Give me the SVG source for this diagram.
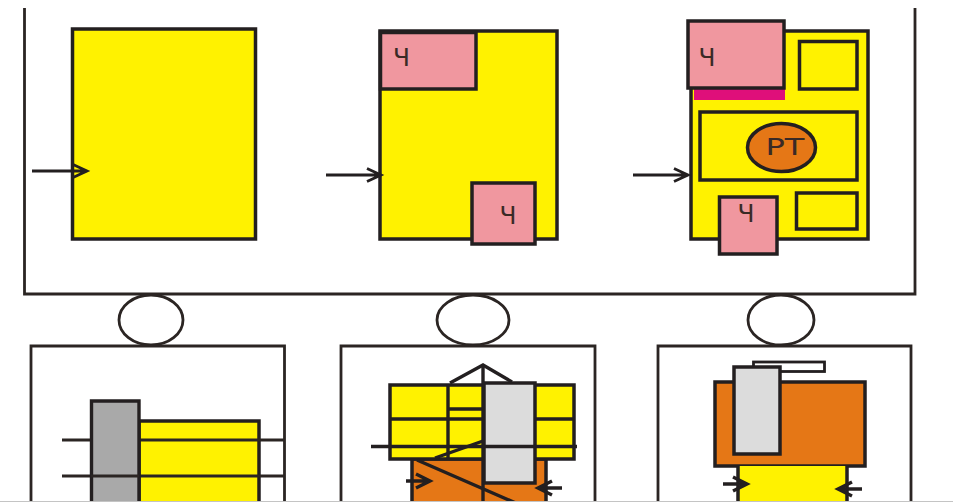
<svg xmlns="http://www.w3.org/2000/svg" width="953" height="502" viewBox="0 0 953 502">
<style>
.k{stroke:#231f20;stroke-width:3.400;fill:none}
.t{stroke:#2b2523;stroke-width:2.800;fill:none}
.y{fill:#fff200;stroke:#231f20;stroke-width:3.500}
.p{fill:#f0979f;stroke:#231f20;stroke-width:3.500}
.o{fill:#e57716;stroke:#231f20;stroke-width:3.500}
.g{fill:#dcdcdc;stroke:#231f20;stroke-width:3.500}
.w{fill:#fff;stroke:#231f20;stroke-width:2.800}
text{font-family:"DejaVu Sans",sans-serif;fill:#3a2a26;text-anchor:middle}
</style>
<defs>
<path id="ar" d="M-14-6.500L0 0L-14 6.500M-55 0H0" fill="none" stroke="#231f20" stroke-width="2.800"/>
<path id="as" d="M-14-7L0 0L-14 7M-24 0H0" fill="none" stroke="#231f20" stroke-width="3.400"/>
</defs>
<rect width="953" height="502" fill="#fff"/>
<g id="frame-top"><path class="t" d="M24.500 8V294H915V8"/></g>
<g id="panel-a"><rect class="y" x="72.500" y="29" width="183" height="210"/></g>
<g id="panel-b">
<rect class="y" x="380" y="31" width="177" height="208"/>
<rect class="p" x="380.500" y="32.500" width="95.500" height="56.500"/>
<text x="401.500" y="66" font-size="24" textLength="17" lengthAdjust="spacingAndGlyphs">Ч</text>
<rect class="p" x="472" y="183" width="63" height="61"/>
<text x="508" y="224" font-size="24" textLength="17" lengthAdjust="spacingAndGlyphs">Ч</text>
</g>
<g id="panel-c">
<rect class="y" x="691" y="31" width="177" height="208"/>
<rect x="694" y="89" width="91" height="11" fill="#df0f7a"/>
<rect class="p" x="688" y="21" width="96" height="67"/>
<text x="707" y="66" font-size="24" textLength="17" lengthAdjust="spacingAndGlyphs">Ч</text>
<rect class="y" x="799.500" y="41.500" width="57.500" height="47.500"/>
<rect class="y" x="700" y="112" width="157" height="68"/>
<ellipse class="o" cx="781.500" cy="147.500" rx="34" ry="24"/>
<text x="785" y="155" font-size="23" textLength="39" lengthAdjust="spacingAndGlyphs">РТ</text>
<rect class="y" x="796.500" y="193" width="60.500" height="36"/>
<rect class="p" x="719.500" y="197" width="57.500" height="57"/>
<text x="746" y="222" font-size="24" textLength="17" lengthAdjust="spacingAndGlyphs">Ч</text>
</g>
<g id="circle-a"><ellipse class="t" cx="151" cy="320" rx="32" ry="25"/></g>
<g id="circle-b"><ellipse class="t" cx="473" cy="320" rx="36" ry="25"/></g>
<g id="circle-c"><ellipse class="t" cx="781" cy="320" rx="33" ry="25"/></g>
<g id="frame-a"><path class="t" d="M31 510V346H284.500V510"/></g>
<g id="frame-b"><path class="t" d="M341 510V346H595V510"/></g>
<g id="frame-c"><path class="t" d="M658 510V346H911V510"/></g>
<g id="part-a">
<rect class="y" x="139" y="421" width="120" height="90"/>
<path class="t" d="M62 440H91M139 440H284M62 476H284"/>
<rect x="92" y="402" width="46" height="100" fill="#a9a9a9"/>
<path class="k" d="M91.500 510V401H139V510"/>
<path class="t" d="M91 476H139"/>
</g>
<g id="part-b">
<rect class="o" x="412" y="459" width="134" height="60"/>
<rect class="y" x="390" y="385" width="184" height="74"/>
<path class="k" d="M448 384V459M449 409H483M390 419H483M535 419L574 419"/>
<path class="k" d="M450 383L483 365L512 382"/>
<path class="k" d="M483 365V510"/>
<path class="k" d="M435 458L483 441M417 460L518 504"/>
<rect class="g" x="484" y="383" width="51" height="100"/>
<path class="k" d="M371 446.500H577"/>
<use href="#as" x="430" y="481"/>
<use href="#as" transform="translate(538 488) scale(-1 1)"/>
</g>
<g id="part-c">
<rect class="w" x="753.500" y="362" width="71" height="9.500"/>
<rect class="o" x="715" y="382" width="150" height="84"/>
<rect class="g" x="734" y="367" width="46" height="87"/>
<path class="y" d="M738 466V510H847V466"/>
<use href="#as" x="747" y="484"/>
<use href="#as" transform="translate(838 489) scale(-1 1)"/>
</g>
<g id="connectors">
<use href="#ar" x="87" y="171"/>
<use href="#ar" x="381" y="175"/>
<use href="#ar" x="688" y="175"/>
</g>
<rect y="501" width="953" height="1" fill="#c4c4c4"/>
</svg>
